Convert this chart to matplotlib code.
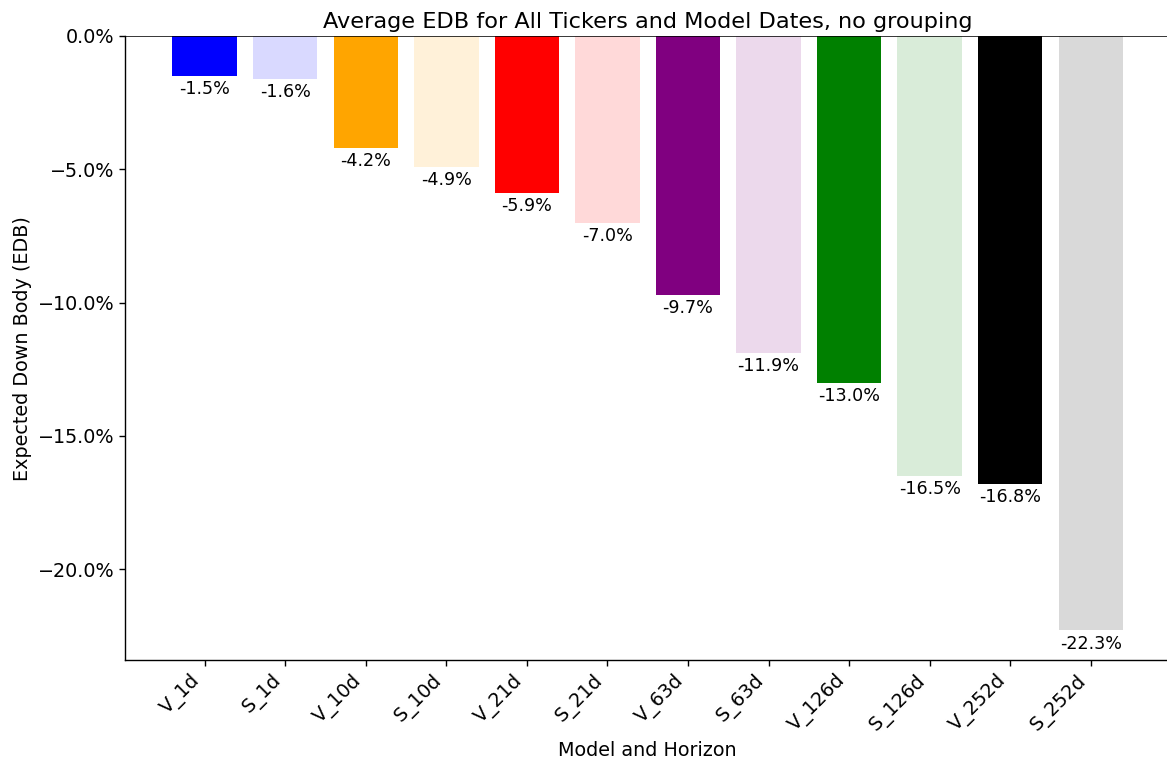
import matplotlib.pyplot as plt
from matplotlib.ticker import PercentFormatter
from matplotlib.colors import to_rgba

models = ['V_1d', 'S_1d', 'V_10d', 'S_10d', 'V_21d', 'S_21d',
          'V_63d', 'S_63d', 'V_126d', 'S_126d', 'V_252d', 'S_252d']
edb = [-0.015, -0.016, -0.042, -0.049, -0.059, -0.070,
       -0.097, -0.119, -0.130, -0.165, -0.168, -0.223]
base_colors = ['blue', 'orange', 'red', 'purple', 'green', 'black']

# V bars in full colour, S bars in the same colour faded
colors = []
for c in base_colors:
    colors.append(to_rgba(c))
    colors.append(to_rgba(c, 0.15))

fig, ax = plt.subplots(figsize=(11.67, 7.65), dpi=100)
x = range(len(models))
bars = ax.bar(x, edb, color=colors, width=0.8)

for b, v in zip(bars, edb):
    ax.annotate(f'{v*100:.1f}%', (b.get_x() + b.get_width() / 2, v),
                xytext=(0, -3), textcoords='offset points',
                ha='center', va='top', fontsize=12.6)

ax.axhline(0, color='black', lw=1.1)
ax.set_xticks(list(x))
ax.set_xticklabels(models, rotation=45, ha='right', fontsize=13.8)
ax.yaxis.set_major_formatter(PercentFormatter(xmax=1, decimals=1))
ax.tick_params(axis='y', labelsize=13.8)
ax.tick_params(length=4.0, width=1.0)
ax.spines['top'].set_visible(False)
ax.spines['right'].set_visible(False)
for s in ['left', 'bottom']:
    ax.spines[s].set_linewidth(1.0)
ax.set_xlabel('Model and Horizon', fontsize=13.8)
ax.set_ylabel('Expected Down Body (EDB)', fontsize=13.8)
ax.set_title('Average EDB for All Tickers and Model Dates, no grouping', fontsize=16.1)

plt.subplots_adjust(left=0.107, right=1.003, top=0.953, bottom=0.137)
plt.savefig('out.png')
